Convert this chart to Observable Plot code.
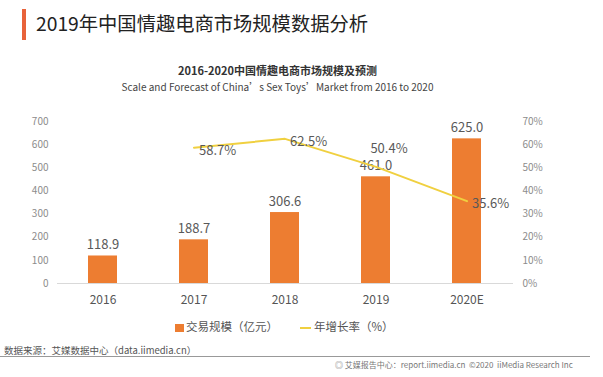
<!DOCTYPE html>
<html><head><meta charset="utf-8">
<script src="https://cdn.jsdelivr.net/npm/d3@7"></script>
<script src="https://cdn.jsdelivr.net/npm/@observablehq/plot@0.6"></script>
<style>
body{margin:0;background:#fff;font-family:"Noto Sans CJK SC","Noto Sans",sans-serif;}
#wrap{position:relative;width:603px;height:377px;overflow:hidden;background:#fff;}
.abs{position:absolute;white-space:nowrap;}
#bar{left:22px;top:9px;width:4px;height:31px;background:#E8633A;}
#title{left:36px;top:10px;font-size:19.3px;font-weight:400;color:#222;line-height:26px;}
#sub1{left:0;width:555px;text-align:center;top:62px;font-size:11px;font-weight:bold;color:#333;line-height:16px;}
#sub2{left:0;width:555px;text-align:center;top:79px;font-size:10px;color:#444;line-height:16px;}
#chart{position:absolute;left:0;top:100px;}
#legend{left:175px;top:318px;font-size:11.5px;color:#555;line-height:16px;}
.sw{display:inline-block;width:9px;height:8px;background:#ED7D31;vertical-align:middle;margin-right:2px;}
.ln{display:inline-block;width:11px;height:2px;background:#F0D040;vertical-align:middle;margin-right:3px;margin-left:22px;}
#src{left:4px;top:343px;font-size:9.5px;color:#555;line-height:14px;}
#hr{left:0;top:356px;width:590px;height:1px;background:#999;}
#copy{left:335px;top:359px;font-size:8px;color:#777;line-height:12px;}
</style></head>
<body><div id="wrap">
<div class="abs" id="bar"></div>
<div class="abs" id="title">2019年中国情趣电商市场规模数据分析</div>
<div class="abs" id="sub1">2016-2020中国情趣电商市场规模及预测</div>
<div class="abs" id="sub2">Scale and Forecast of China’s Sex Toys’Market from 2016 to 2020</div>
<div id="chart"></div>
<div class="abs" id="legend"><span class="sw"></span>交易规模（亿元）<span class="ln"></span>年增长率（%）</div>
<div class="abs" id="src">数据来源：艾媒数据中心（data.iimedia.cn）</div>
<div class="abs" id="hr"></div>
<div class="abs" id="copy">◎ 艾媒报告中心：report.iimedia.cn &nbsp;©2020 &nbsp;iiMedia Research Inc</div>
</div>
<script>
const years = ["2016", "2017", "2018", "2019", "2020E"];
const scale = [118.9, 188.7, 306.6, 461.0, 625.0];
const growthYears = ["2017", "2018", "2019", "2020E"];
const growth = [58.7, 62.5, 50.4, 35.6];
const leftTicks = [0, 100, 200, 300, 400, 500, 600, 700];
const rightTicks = [0, 10, 20, 30, 40, 50, 60, 70];

const bars = years.map((y, i) => ({year: y, value: scale[i]}));
const rates = growthYears.map((y, i) => ({year: y, rate: growth[i]}));
// right axis (0–70%) shares the left scale (0–700)
const k = 700 / 70;
const labelAbove = new Set(["2019"]);
const font = '"Noto Sans CJK SC","Noto Sans",sans-serif';

const plot = Plot.plot({
  width: 603, height: 215,
  marginLeft: 57, marginRight: 90, marginTop: 21, marginBottom: 32,
  style: {fontFamily: font, background: "transparent"},
  x: {domain: years, paddingInner: 0.68, paddingOuter: 0.34, label: null},
  y: {domain: [0, 700], label: null},
  marks: [
    Plot.axisY(leftTicks, {anchor: "left", tickSize: 0, tickPadding: 9, fontSize: 10, fill: "#8c8c8c", label: null}),
    Plot.axisY(rightTicks.map(t => t * k), {anchor: "right", tickSize: 0, tickPadding: 9, fontSize: 10, fill: "#8c8c8c", label: null, tickFormat: d => (d / k) + "%"}),
    Plot.axisX({tickSize: 0, tickPadding: 12, fontSize: 12, fill: "#555", label: null}),
    Plot.barY(bars, {x: "year", y: "value", fill: "#ED7D31"}),
    Plot.ruleY([0], {stroke: "#d9d9d9"}),
    Plot.text(bars, {x: "year", y: "value", text: d => d.value.toFixed(1), dy: -11, fontSize: 13, fill: "#595959"}),
    Plot.line(rates, {x: "year", y: d => d.rate * k, stroke: "#F0D040", strokeWidth: 2}),
    Plot.text(rates.filter(d => !labelAbove.has(d.year)), {
      x: "year", y: d => d.rate * k, text: d => d.rate.toFixed(1) + "%",
      textAnchor: "start", dx: 5, dy: 3, fontSize: 13, fill: "#595959"
    }),
    Plot.text(rates.filter(d => labelAbove.has(d.year)), {
      x: "year", y: d => d.rate * k, text: d => d.rate.toFixed(1) + "%",
      textAnchor: "middle", dx: 13, dy: -18, fontSize: 13, fill: "#595959"
    })
  ]
});
document.getElementById("chart").appendChild(plot);
</script>
</body></html>
